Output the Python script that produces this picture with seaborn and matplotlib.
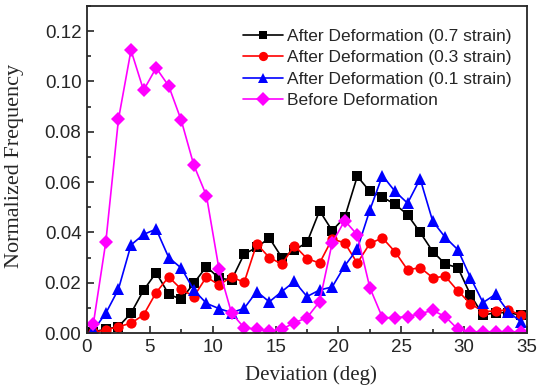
import numpy as np
import pandas as pd
import matplotlib
matplotlib.use("Agg")
import matplotlib.pyplot as plt
import seaborn as sns
from matplotlib.ticker import MultipleLocator

deviation = [0.5, 1.5, 2.5, 3.5, 4.5, 5.5, 6.5, 7.5, 8.5, 9.5, 10.5, 11.5,
             12.5, 13.5, 14.5, 15.5, 16.5, 17.5, 18.5, 19.5, 20.5, 21.5, 22.5, 23.5,
             24.5, 25.5, 26.5, 27.5, 28.5, 29.5, 30.5, 31.5, 32.5, 33.5, 34.5]

strain_07 = [0.0005, 0.0015, 0.0025, 0.0079, 0.0170, 0.0240, 0.0154, 0.0134, 0.0198, 0.0264, 0.0218, 0.0211,
             0.0314, 0.0340, 0.0378, 0.0300, 0.0330, 0.0360, 0.0486, 0.0407, 0.0460, 0.0623, 0.0563, 0.0540,
             0.0512, 0.0470, 0.0400, 0.0324, 0.0274, 0.0260, 0.0152, 0.0071, 0.0081, 0.0081, 0.0071]

strain_03 = [0.0003, 0.0012, 0.0025, 0.0039, 0.0072, 0.0161, 0.0223, 0.0174, 0.0145, 0.0223, 0.0191, 0.0223,
             0.0201, 0.0354, 0.0300, 0.0274, 0.0347, 0.0296, 0.0278, 0.0374, 0.0358, 0.0278, 0.0356, 0.0378,
             0.0323, 0.0251, 0.0260, 0.0220, 0.0225, 0.0167, 0.0117, 0.0085, 0.0088, 0.0092, 0.0072]

strain_01 = [0.0010, 0.0079, 0.0174, 0.0350, 0.0392, 0.0413, 0.0300, 0.0258, 0.0171, 0.0118, 0.0097, 0.0081,
             0.0098, 0.0165, 0.0124, 0.0165, 0.0205, 0.0145, 0.0171, 0.0183, 0.0267, 0.0334, 0.0489, 0.0626,
             0.0563, 0.0516, 0.0613, 0.0444, 0.0380, 0.0331, 0.0220, 0.0121, 0.0154, 0.0085, 0.0045]

before = [0.0035, 0.0363, 0.0849, 0.1124, 0.0965, 0.1054, 0.0982, 0.0845, 0.0667, 0.0546, 0.0254, 0.0079,
          0.0021, 0.0015, 0.0008, 0.0015, 0.0041, 0.0061, 0.0125, 0.0358, 0.0447, 0.0390, 0.0180, 0.0061,
          0.0061, 0.0065, 0.0077, 0.0090, 0.0065, 0.0015, 0.0005, 0.0005, 0.0005, 0.0005, 0.0005]

labels = ["After Deformation (0.7 strain)", "After Deformation (0.3 strain)",
          "After Deformation (0.1 strain)", "Before Deformation"]

df = pd.DataFrame({"Deviation": deviation * 4,
                   "Frequency": strain_07 + strain_03 + strain_01 + before,
                   "Series": sum([[l] * len(deviation) for l in labels], [])})

sns.set_style("ticks")
plt.rcParams['font.family'] = ['Liberation Sans', 'DejaVu Sans']

fig = plt.figure(figsize=(5.38, 3.91), dpi=100)
ax = fig.add_axes([0.1617, 0.1483, 0.8179, 0.8364])

palette = {labels[0]: "#000000", labels[1]: "#ff0000", labels[2]: "#0000ff", labels[3]: "#ff00ff"}
markers = {labels[0]: "s", labels[1]: "o", labels[2]: "^", labels[3]: "D"}

sns.lineplot(data=df, x="Deviation", y="Frequency", hue="Series", style="Series",
             palette=palette, markers=markers, dashes=False, ax=ax, errorbar=None,
             linewidth=1.2, markersize=7, markeredgewidth=0, legend=False)

msizes = [6.6, 7.4, 8.6, 7.4]
for line, ms in zip(ax.lines, msizes):
    line.set_markersize(ms)

ax.set_xlim(0, 35)
ax.set_ylim(0, 0.13)
ax.xaxis.set_major_locator(MultipleLocator(5))
ax.xaxis.set_minor_locator(MultipleLocator(2.5))
ax.yaxis.set_major_locator(MultipleLocator(0.02))
ax.yaxis.set_minor_locator(MultipleLocator(0.01))
ax.yaxis.set_major_formatter(matplotlib.ticker.FormatStrFormatter('%.2f'))
ax.tick_params(which='major', direction='in', length=5, width=1.2, labelsize=13.5, pad=4)
ax.tick_params(which='minor', direction='in', length=3, width=1.2)
for s in ax.spines.values():
    s.set_linewidth(1.3)

ax.set_xlabel("Deviation (deg)", family="Liberation Serif", fontsize=15)
ax.set_ylabel("Normalized Frequency", family="Liberation Serif", fontsize=16)
ax.xaxis.set_label_coords(0.509, -0.098)
ax.yaxis.set_label_coords(-0.143, 0.51)

leg = ax.legend(handles=ax.lines[:4], labels=labels, loc="upper left",
                bbox_to_anchor=(0.3545, 0.93), frameon=False, fontsize=12.5,
                handlelength=2.3, handletextpad=0.25, labelspacing=0.36,
                borderaxespad=0.0, borderpad=0.0, markerscale=0.9)

fig.savefig("out.png", dpi=100)
